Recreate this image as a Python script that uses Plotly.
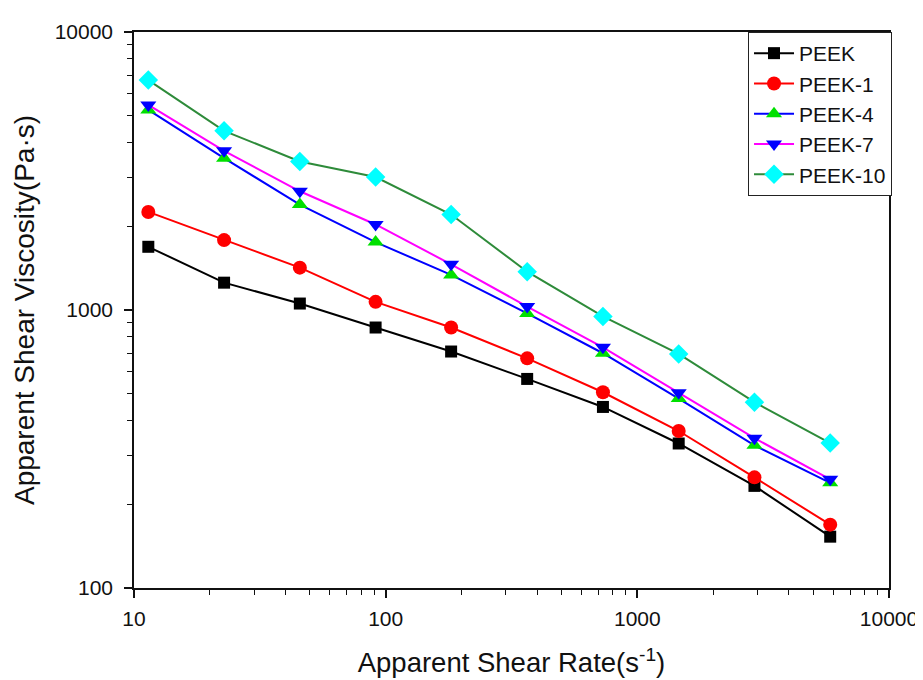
import plotly.graph_objects as go

shear_rate = [11.4, 22.8, 45.6, 91.2, 182, 365, 730, 1460, 2920, 5840]

series_names = ["PEEK", "PEEK-1", "PEEK-4", "PEEK-7", "PEEK-10"]
peek = [1688, 1254, 1055, 865, 709, 565, 448, 331, 233, 153]
peek_1 = [2253, 1784, 1420, 1070, 865, 670, 506, 367, 250, 169]
peek_4 = [5243, 3517, 2395, 1755, 1337, 972, 699, 480, 326, 239]
peek_7 = [5464, 3738, 2673, 2031, 1460, 1029, 734, 504, 346, 246]
peek_10 = [6714, 4410, 3422, 3008, 2205, 1373, 948, 695, 466, 332]

x_tick_vals = [10, 100, 1000, 10000]
x_tick_text = ["10", "100", "1000", "10000"]
y_tick_vals = [100, 1000, 10000]
y_tick_text = ["100", "1000", "10000"]

line_colors = ["#000000", "#FF0000", "#0000FF", "#FF00FF", "#2E8B3A"]
marker_colors = ["#000000", "#FF0000", "#00E000", "#0000FF", "#00FFFF"]
symbols = ["square", "circle", "triangle-up", "triangle-down", "diamond"]
sizes = [12, 14, 14, 14, 15]

fig = go.Figure()
for name, vals, lc, mc, sym, sz in zip(series_names,
                                       [peek, peek_1, peek_4, peek_7, peek_10],
                                       line_colors, marker_colors, symbols, sizes):
    fig.add_trace(go.Scatter(
        x=shear_rate, y=vals, name=name, mode="lines+markers",
        line=dict(color=lc, width=2),
        marker=dict(color=mc, symbol=sym, size=sz, line=dict(width=0)),
    ))

font_family = "Liberation Sans, Arial, sans-serif"

fig.update_layout(
    width=923, height=680,
    margin=dict(l=126, r=42, t=22, b=100),
    paper_bgcolor="white", plot_bgcolor="white",
    font=dict(family=font_family, size=21, color="#111111"),
    legend=dict(
        x=1.004, y=1, xanchor="right", yanchor="top",
        bordercolor="#222222", borderwidth=1, bgcolor="white",
        font=dict(size=21), tracegroupgap=0, itemwidth=40,
    ),
    xaxis=dict(
        type="log", range=[1, 4],
        tickvals=x_tick_vals, ticktext=x_tick_text,
        ticks="outside", ticklen=8, tickwidth=1.5, tickcolor="#111",
        ticklabelstandoff=3,
        showline=True, linecolor="#111", linewidth=1.5, mirror=True,
        showgrid=False, zeroline=False,
        minor=dict(ticks="outside", ticklen=5, tickwidth=1.2, tickcolor="#111",
                   dtick="D1", showgrid=False),
        title=dict(text="Apparent Shear Rate(s<sup>-1</sup>)", font=dict(size=27.5), standoff=24),
    ),
    yaxis=dict(
        type="log", range=[2, 4],
        tickvals=y_tick_vals, ticktext=y_tick_text,
        ticks="outside", ticklen=8, tickwidth=1.5, tickcolor="#111",
        ticklabelstandoff=7,
        showline=True, linecolor="#111", linewidth=1.5, mirror=True,
        showgrid=False, zeroline=False,
        minor=dict(ticks="outside", ticklen=5, tickwidth=1.2, tickcolor="#111",
                   dtick="D1", showgrid=False),
        title=dict(text="Apparent Shear Viscosity(Pa·s)", font=dict(size=28), standoff=12),
    ),
)

fig.write_html("out.html")
